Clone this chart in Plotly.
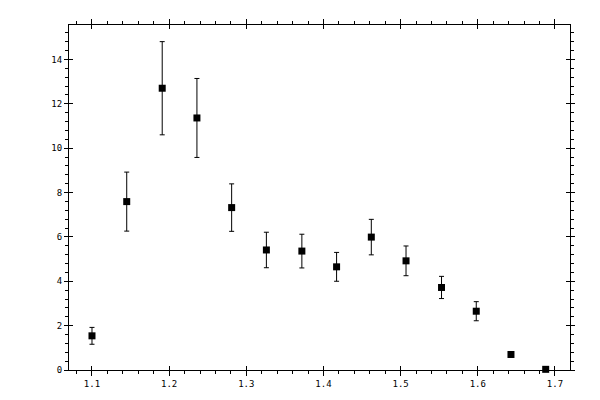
import plotly.graph_objects as go

# measured points (x, y, symmetric error)
x_vals = [1.100, 1.145, 1.191, 1.236, 1.281, 1.326, 1.372,
          1.417, 1.462, 1.507, 1.553, 1.598, 1.643, 1.688]
y_vals = [1.54, 7.59, 12.70, 11.36, 7.32, 5.41, 5.36,
          4.65, 5.99, 4.92, 3.72, 2.65, 0.70, 0.03]
y_err = [0.38, 1.33, 2.10, 1.78, 1.07, 0.80, 0.76,
         0.65, 0.80, 0.67, 0.50, 0.43, 0.12, 0.0]

x_ticks = [1.1, 1.2, 1.3, 1.4, 1.5, 1.6, 1.7]
y_ticks = [0, 2, 4, 6, 8, 10, 12, 14]

x_range = [1.0702, 1.7195]
y_range = [0, 15.55]

fig = go.Figure()

fig.add_trace(go.Scatter(
    x=x_vals, y=y_vals,
    mode="markers",
    marker=dict(symbol="square", size=7, color="black"),
    error_y=dict(type="data", array=y_err, visible=True,
                 color="black", thickness=1, width=2.5),
    cliponaxis=False,
    showlegend=False,
))

# dummy trace so the overlay axes (inner half of the major ticks) get drawn
fig.add_trace(go.Scatter(x=[None], y=[None], xaxis="x2", yaxis="y2",
                         showlegend=False, hoverinfo="skip"))

axis_font = dict(family="DejaVu Sans Mono", size=9, color="black")

# page body adds ~8px offset, so margins are pulled in to compensate
fig.update_layout(
    width=600, height=400,
    margin=dict(l=61, r=38, t=11, b=38),
    plot_bgcolor="white",
    paper_bgcolor="white",
    font=axis_font,
    xaxis=dict(
        range=x_range, tickvals=x_ticks, ticktext=[f"{v:.1f}" for v in x_ticks],
        showgrid=False, zeroline=False,
        showline=True, linecolor="black", linewidth=1, mirror="allticks",
        ticks="outside", ticklen=5, tickcolor="black", tickwidth=1,
        minor=dict(dtick=0.02, tick0=0, ticks="outside", ticklen=3,
                   tickcolor="black", showgrid=False),
        tickfont=axis_font,
    ),
    yaxis=dict(
        range=y_range, tickvals=y_ticks,
        showgrid=False, zeroline=False,
        showline=True, linecolor="black", linewidth=1, mirror="allticks",
        ticks="outside", ticklen=4, tickcolor="black", tickwidth=1,
        minor=dict(dtick=0.4, tick0=0, ticks="outside", ticklen=3,
                   tickcolor="black", showgrid=False),
        tickfont=axis_font,
    ),
    xaxis2=dict(
        range=x_range, tickvals=x_ticks, overlaying="x",
        showticklabels=False, showgrid=False, zeroline=False,
        ticks="inside", ticklen=4, tickcolor="black", mirror="allticks",
        showline=False,
    ),
    yaxis2=dict(
        range=y_range, tickvals=y_ticks, overlaying="y",
        showticklabels=False, showgrid=False, zeroline=False,
        ticks="inside", ticklen=4, tickcolor="black", mirror="allticks",
        showline=False,
    ),
)

fig.write_html("out.html")
